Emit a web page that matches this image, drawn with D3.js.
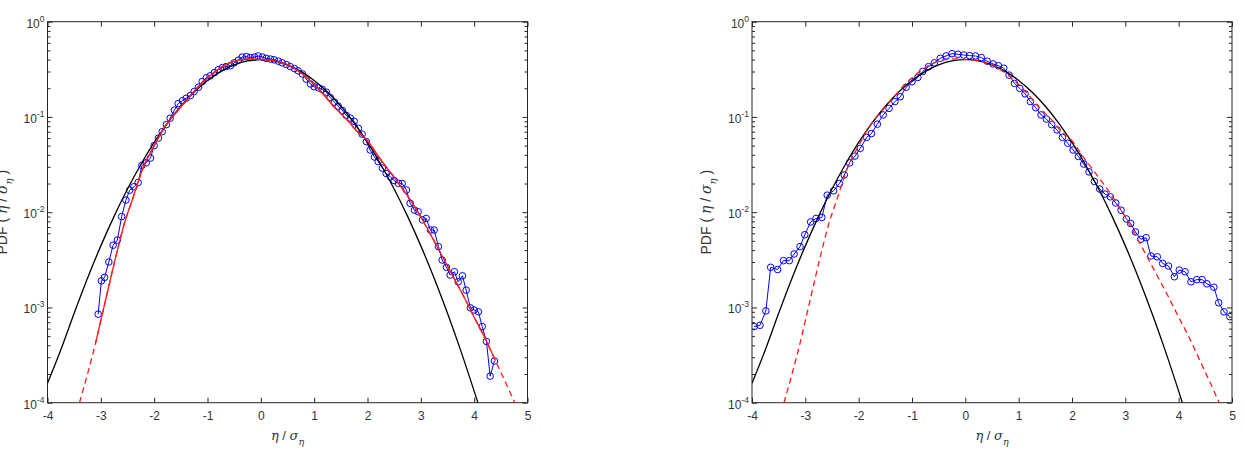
<!DOCTYPE html>
<html>
<head>
<meta charset="utf-8">
<script src="https://cdn.jsdelivr.net/npm/d3@7"></script>
<style>
  html, body { margin: 0; padding: 0; background: #fff; }
  svg { display: block; font-family: "Liberation Sans", Arial, sans-serif; }
  .axis text { fill: #333; font-size: 12px; }
  .axis path, .axis line { stroke: #262626; }
</style>
</head>
<body>
<svg id="chart" width="1245" height="454"></svg>
<script>
// x tick labels and y decades
const xTicks = [-4, -3, -2, -1, 0, 1, 2, 3, 4, 5];
const yDecades = [1e-4, 1e-3, 1e-2, 1e-1, 1];

// black: Gaussian reference curve
const gaussX = [-4, -3.75, -3.5, -3.25, -3, -2.75, -2.5, -2.25, -2, -1.75, -1.5, -1.25, -1, -0.75, -0.5, -0.25, 0,
  0.25, 0.5, 0.75, 1, 1.25, 1.5, 1.75, 2, 2.25, 2.5, 2.75, 3, 3.25, 3.5, 3.75, 4.07];
const gaussY = [1.6e-4, 3.6e-4, 8.7e-4, 2.03e-3, 4.43e-3, 9.1e-3, 0.0175, 0.0317, 0.054, 0.0863, 0.1295, 0.1826, 0.242, 0.301, 0.352, 0.387, 0.399,
  0.387, 0.352, 0.301, 0.242, 0.1826, 0.1295, 0.0863, 0.054, 0.0317, 0.0175, 9.1e-3, 4.43e-3, 2.03e-3, 8.7e-4, 3.5e-4, 1e-4];

// red: fitted distribution (same in both panels)
const fitX = [-3.4, -3.1, -2.91, -2.72, -2.55, -2.41, -2.2, -2, -1.8, -1.6, -1.4, -1.2, -1, -0.8, -0.6, -0.4, -0.2, 0,
  0.2, 0.4, 0.6, 0.8, 1, 1.2, 1.4, 1.6, 1.8, 2, 2.2, 2.4, 2.6, 2.8, 3, 3.2, 3.4, 3.6, 3.8, 4, 4.2, 4.4, 4.6, 4.76];
const fitY = [1e-4, 4.2e-4, 1.2e-3, 3.4e-3, 7.9e-3, 0.0135, 0.030, 0.050, 0.079, 0.110, 0.148, 0.200, 0.257, 0.316, 0.367, 0.398, 0.407, 0.403,
  0.394, 0.372, 0.331, 0.275, 0.219, 0.166, 0.123, 0.0955, 0.0708, 0.0562, 0.0389, 0.0275, 0.0195, 0.0135, 8.9e-3, 5.6e-3, 3.47e-3, 2.14e-3, 1.32e-3, 7.9e-4, 4.8e-4, 2.75e-4, 1.58e-4, 1e-4];

// blue: measured PDF, left panel
const leftX = [-3.05, -2.99, -2.93, -2.85, -2.77, -2.69, -2.61, -2.53, -2.46, -2.38, -2.30, -2.23, -2.15, -2.07, -2.00, -1.92, -1.85, -1.77, -1.70, -1.62,
  -1.55, -1.47, -1.40, -1.32, -1.25, -1.17, -1.10, -1.02, -0.95, -0.87, -0.80, -0.72, -0.65, -0.57, -0.50, -0.42, -0.35, -0.27, -0.20, -0.12,
  -0.05, 0.03, 0.10, 0.18, 0.25, 0.33, 0.40, 0.48, 0.55, 0.63, 0.70, 0.78, 0.85, 0.93, 1.00, 1.08, 1.15, 1.23, 1.30, 1.38,
  1.45, 1.53, 1.60, 1.68, 1.75, 1.83, 1.90, 1.98, 2.05, 2.13, 2.20, 2.28, 2.35, 2.43, 2.50, 2.58, 2.65, 2.73, 2.80, 2.88,
  2.95, 3.03, 3.10, 3.18, 3.25, 3.33, 3.40, 3.48, 3.55, 3.63, 3.70, 3.78, 3.85, 3.93, 4.00, 4.08, 4.15, 4.23, 4.30, 4.38];
const leftY = [8.5e-4, 1.9e-3, 2.07e-3, 3.0e-3, 4.5e-3, 5.1e-3, 9.0e-3, 0.0134, 0.017, 0.0185, 0.0205, 0.031, 0.033, 0.037, 0.050, 0.060, 0.070, 0.083, 0.097, 0.118,
  0.138, 0.148, 0.157, 0.168, 0.185, 0.205, 0.235, 0.258, 0.270, 0.292, 0.313, 0.330, 0.338, 0.345, 0.370, 0.395, 0.425, 0.430, 0.420, 0.425,
  0.437, 0.425, 0.412, 0.405, 0.398, 0.385, 0.370, 0.355, 0.338, 0.322, 0.305, 0.283, 0.250, 0.222, 0.208, 0.202, 0.195, 0.182, 0.160, 0.143,
  0.130, 0.117, 0.104, 0.097, 0.090, 0.076, 0.066, 0.055, 0.045, 0.038, 0.034, 0.029, 0.0255, 0.0235, 0.0215, 0.0201, 0.020, 0.0171, 0.0124, 0.0105,
  0.0101, 8.3e-3, 8.6e-3, 6.5e-3, 6.5e-3, 4.35e-3, 3.15e-3, 2.64e-3, 2.19e-3, 2.37e-3, 1.86e-3, 2.15e-3, 1.52e-3, 9.9e-4, 9.4e-4, 9.0e-4, 6.3e-4, 4.4e-4, 1.9e-4, 2.74e-4];

// blue: measured PDF, right panel
const rightX = [-3.96, -3.85, -3.74, -3.65, -3.52, -3.41, -3.30, -3.21, -3.10, -3.01, -2.90, -2.80, -2.69, -2.59, -2.47, -2.36, -2.27, -2.17, -2.07, -1.97,
  -1.85, -1.76, -1.65, -1.54, -1.43, -1.32, -1.22, -1.11, -1.00, -0.89, -0.80, -0.69, -0.58, -0.47, -0.36, -0.25, -0.14, -0.03, 0.08, 0.19,
  0.30, 0.41, 0.52, 0.62, 0.72, 0.82, 0.92, 1.02, 1.12, 1.22, 1.32, 1.42, 1.52, 1.62, 1.72, 1.82, 1.92, 2.02, 2.12, 2.22,
  2.32, 2.42, 2.52, 2.62, 2.72, 2.82, 2.92, 3.02, 3.10, 3.19, 3.29, 3.39, 3.48, 3.60, 3.70, 3.81, 3.92, 4.01, 4.12, 4.23,
  4.34, 4.44, 4.53, 4.66, 4.75, 4.85, 4.96];
const rightY = [6.3e-4, 6.5e-4, 9.2e-4, 2.64e-3, 2.5e-3, 3.1e-3, 3.1e-3, 3.64e-3, 4.35e-3, 5.8e-3, 7.9e-3, 8.6e-3, 8.8e-3, 0.0151, 0.0168, 0.020, 0.0246, 0.033, 0.0388, 0.0468,
  0.061, 0.067, 0.084, 0.105, 0.123, 0.145, 0.163, 0.205, 0.234, 0.26, 0.30, 0.337, 0.37, 0.413, 0.437, 0.462, 0.455, 0.447, 0.440, 0.437,
  0.420, 0.385, 0.360, 0.345, 0.325, 0.275, 0.225, 0.200, 0.175, 0.145, 0.125, 0.105, 0.095, 0.083, 0.073, 0.061, 0.053, 0.045, 0.0385, 0.032,
  0.0265, 0.021, 0.0175, 0.0155, 0.0145, 0.0125, 0.0105, 8.5e-3, 7.6e-3, 6.2e-3, 5.2e-3, 5.4e-3, 3.47e-3, 3.4e-3, 2.9e-3, 2.72e-3, 2.1e-3, 2.47e-3, 2.37e-3, 1.86e-3,
  1.96e-3, 1.96e-3, 1.77e-3, 1.63e-3, 1.12e-3, 9.0e-4, 8.0e-4];

const svg = d3.select("#chart");
const W = 480, H = 381;

function drawPanel(left, top, bx, by, redSolid, ylabX, id){
  const g = svg.append("g").attr("transform", `translate(${left},${top})`);

  const x = d3.scaleLinear().domain([-4, 5]).range([0, W]);
  const y = d3.scaleLog().domain([1e-4, 1]).range([H, 0]);

  g.append("clipPath").attr("id", id).append("rect").attr("width", W).attr("height", H);

  // minor log ticks
  const minor = [];
  for (const d of yDecades.slice(0, 4)) for (let k = 2; k <= 9; k++) minor.push(d * k);

  // axes (ticks point inward, like the original)
  g.append("g").attr("class", "axis").attr("transform", `translate(0,${H})`)
    .call(d3.axisBottom(x).tickValues(xTicks).tickSizeInner(-5).tickSizeOuter(0).tickPadding(9).tickFormat(d => String(d)));
  g.append("g").attr("class", "axis")
    .call(d3.axisTop(x).tickValues(xTicks).tickSizeInner(-5).tickSizeOuter(0).tickFormat(""));
  const yl = g.append("g").attr("class", "axis")
    .call(d3.axisLeft(y).tickValues(yDecades).tickSizeInner(-5).tickSizeOuter(0).tickPadding(3));
  yl.selectAll(".tick text").text(null).each(function(d){
    const t = d3.select(this);
    t.append("tspan").attr("dy", "0.45em").text("10");
    t.append("tspan").attr("dy", -6).attr("font-size", "8.5px").text(Math.round(Math.log10(d)));
  }).attr("dy", null);
  g.append("g").attr("class", "axis")
    .call(d3.axisLeft(y).tickValues(minor).tickSizeInner(-3).tickSizeOuter(0).tickFormat(""));
  g.append("g").attr("class", "axis").attr("transform", `translate(${W},0)`)
    .call(d3.axisRight(y).tickValues(yDecades).tickSizeInner(-5).tickSizeOuter(0).tickFormat(""));
  g.append("g").attr("class", "axis").attr("transform", `translate(${W},0)`)
    .call(d3.axisRight(y).tickValues(minor).tickSizeInner(-3).tickSizeOuter(0).tickFormat(""));
  g.selectAll(".axis .domain").remove();

  g.append("rect").attr("width", W).attr("height", H)
    .attr("fill", "none").attr("stroke", "#262626").attr("stroke-width", 1);

  const plot = g.append("g").attr("clip-path", `url(#${id})`);
  const line = d3.line().x(d => x(d[0])).y(d => y(d[1]));
  const smooth = d3.line().x(d => x(d[0])).y(d => y(d[1])).curve(d3.curveMonotoneX);

  const pts = d3.zip(bx, by);
  plot.append("path").datum(pts).attr("d", line)
    .attr("fill", "none").attr("stroke", "#0000ff").attr("stroke-width", 1);
  plot.selectAll("circle").data(pts).enter().append("circle")
    .attr("cx", d => x(d[0])).attr("cy", d => y(d[1])).attr("r", 3.3)
    .attr("fill", "none").attr("stroke", "#0000ff").attr("stroke-width", 1);

  plot.append("path").datum(d3.zip(gaussX, gaussY)).attr("d", smooth)
    .attr("fill", "none").attr("stroke", "#000").attr("stroke-width", 1.3);

  const fit = d3.zip(fitX, fitY);
  plot.append("path").datum(fit).attr("d", smooth)
    .attr("fill", "none").attr("stroke", "#ff1a1a").attr("stroke-width", 1.3)
    .attr("stroke-dasharray", "6,4");
  if (redSolid) {
    const lo = d3.min(bx), hi = d3.max(bx);
    plot.append("path").datum(fit.filter(d => d[0] >= lo - 0.1 && d[0] <= hi + 0.05)).attr("d", smooth)
      .attr("fill", "none").attr("stroke", "#ff1a1a").attr("stroke-width", 1.3);
  }

  // x label: eta / sigma_eta
  const xl = g.append("text").attr("x", W / 2).attr("y", H + 37)
    .attr("text-anchor", "middle").attr("fill", "#333").attr("font-size", "13px");
  xl.append("tspan").attr("font-family", "DejaVu Serif, serif").attr("font-style", "italic").text("η");
  xl.append("tspan").text(" / ");
  xl.append("tspan").attr("font-family", "DejaVu Serif, serif").attr("font-style", "italic").text("σ");
  xl.append("tspan").attr("dy", 5).attr("font-size", "9.5px").attr("font-family", "DejaVu Serif, serif").attr("font-style", "italic").text("η");

  // y label
  const ylab = g.append("text").attr("transform", `translate(${ylabX},${H / 2}) rotate(-90)`)
    .attr("text-anchor", "middle").attr("fill", "#333").attr("font-size", "14px");
  ylab.append("tspan").text("PDF ( ");
  ylab.append("tspan").attr("font-family", "DejaVu Serif, serif").attr("font-style", "italic").text("η");
  ylab.append("tspan").text(" / ");
  ylab.append("tspan").attr("font-family", "DejaVu Serif, serif").attr("font-style", "italic").text("σ");
  ylab.append("tspan").attr("dy", 5).attr("font-size", "10px").attr("font-family", "DejaVu Serif, serif").attr("font-style", "italic").text("η");
  ylab.append("tspan").attr("dy", -5).text(" )");
}

drawPanel(47.5, 21.7, leftX, leftY, true, -41, "clipL");
drawPanel(752, 21.7, rightX, rightY, false, -41, "clipR");
</script>
</body>
</html>
